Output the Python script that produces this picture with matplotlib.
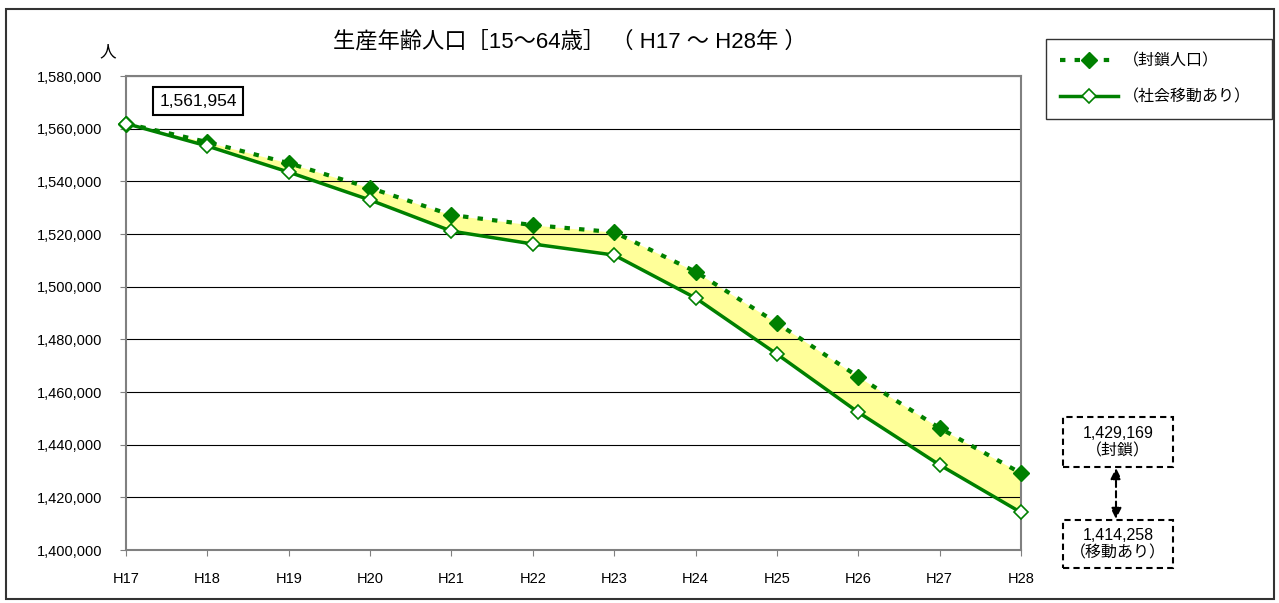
# 生産年齢人口 推移グラフ
import matplotlib
matplotlib.use("Agg")
import matplotlib.pyplot as plt
from matplotlib.patches import Rectangle
from matplotlib.ticker import FuncFormatter, MultipleLocator

# 年次
years = ["H17", "H18", "H19", "H20", "H21", "H22", "H23", "H24", "H25", "H26", "H27", "H28"]

# 封鎖人口
closed = [1561954, 1554900, 1546900, 1537500, 1527200, 1523400, 1520700,
          1505700, 1486200, 1465800, 1446300, 1429169]

# 社会移動あり
moving = [1561954, 1553400, 1543500, 1532900, 1521100, 1516200, 1512000,
          1495700, 1474400, 1452300, 1432300, 1414258]

fonts = ["Liberation Sans", "Noto Sans CJK JP"]
plt.rcParams["font.family"] = fonts

W, H = 1279, 603
fig = plt.figure(figsize=(W / 100, H / 100), dpi=100)


def fx(px):
    return px / W


def fy(py):
    return 1 - py / H


ax = fig.add_axes([fx(126), fy(550), fx(1021) - fx(126), fy(76) - fy(550)])

x = list(range(len(years)))
green = "#008000"

ax.fill_between(x, moving, closed, color="#FFFF99", zorder=1, lw=0)
ax.plot(x, closed, color=green, lw=3, linestyle=(0, (1.3, 2.2)), marker="D",
        markersize=8, markerfacecolor=green, markeredgecolor=green,
        label="（封鎖人口）", clip_on=False, zorder=3)
ax.plot(x, moving, color=green, lw=2.5, marker="D", markersize=7,
        markerfacecolor="white", markeredgecolor=green, markeredgewidth=1.2,
        label="（社会移動あり）", clip_on=False, zorder=4)

ax.set_xlim(0, len(years) - 1)
ax.set_ylim(1400000, 1580000)
ax.yaxis.set_major_locator(MultipleLocator(20000))
ax.yaxis.set_major_formatter(FuncFormatter(lambda v, p: "{:,.0f}".format(v)))
ax.set_xticks(x)
ax.set_xticklabels(years)
ax.tick_params(axis="both", labelsize=10.5, length=4, color="#808080", direction="out")
ax.tick_params(axis="x", pad=12)
ax.tick_params(axis="y", pad=13)
ax.grid(axis="y", color="black", lw=0.8, zorder=0)
for s in ax.spines.values():
    s.set_color("#808080")
    s.set_linewidth(1.5)

# タイトル
fig.text(fx(570), fy(42), "生産年齢人口［15～64歳］ （ H17 ～ H28年 ）",
         ha="center", va="center", fontsize=16)
fig.text(fx(108), fy(52), "人", ha="center", va="center", fontsize=12)

# 凡例
leg = ax.legend(loc="upper left",
                bbox_to_anchor=(fx(1046), fy(120), fx(1272) - fx(1046), fy(39) - fy(120)),
                bbox_transform=fig.transFigure, mode="expand", borderaxespad=0,
                fontsize=11.5, frameon=True, fancybox=False, edgecolor="black",
                borderpad=0.9, labelspacing=1.3, handlelength=3.6, handletextpad=0.3)
leg.get_frame().set_linewidth(1)

# 初期値ラベル
ax.text(fx(198), fy(101), "{:,}".format(closed[0]), transform=fig.transFigure,
        ha="center", va="center", fontsize=12.5,
        bbox=dict(boxstyle="square,pad=0.35", fc="white", ec="black", lw=1.5))

# 右側の最終値ボックス
boxes = [(417, 467, "{:,}\n（封鎖）".format(closed[-1])),
         (520, 568, "{:,}\n（移動あり）".format(moving[-1]))]
for top, bottom, txt in boxes:
    fig.patches.append(Rectangle((fx(1063), fy(bottom)), fx(1173) - fx(1063),
                                 fy(top) - fy(bottom), transform=fig.transFigure,
                                 fill=False, ec="black", lw=1.5, ls=(0, (3, 2))))
    fig.text(fx(1118), fy((top + bottom) / 2), txt, ha="center", va="center",
             fontsize=11.5, linespacing=1.2)

ax.annotate("", xy=(fx(1116), fy(519)), xytext=(fx(1116), fy(468)),
            xycoords="figure fraction", textcoords="figure fraction",
            arrowprops=dict(arrowstyle="<|-|>", color="black", lw=1.5,
                            linestyle=(0, (3, 2)), mutation_scale=16,
                            shrinkA=0, shrinkB=0))

# 外枠
fig.patches.append(Rectangle((fx(6), fy(599)), fx(1274) - fx(6), fy(9) - fy(599),
                             transform=fig.transFigure, fill=False, ec="#333333", lw=1.5))

fig.savefig("out.png", dpi=100)
